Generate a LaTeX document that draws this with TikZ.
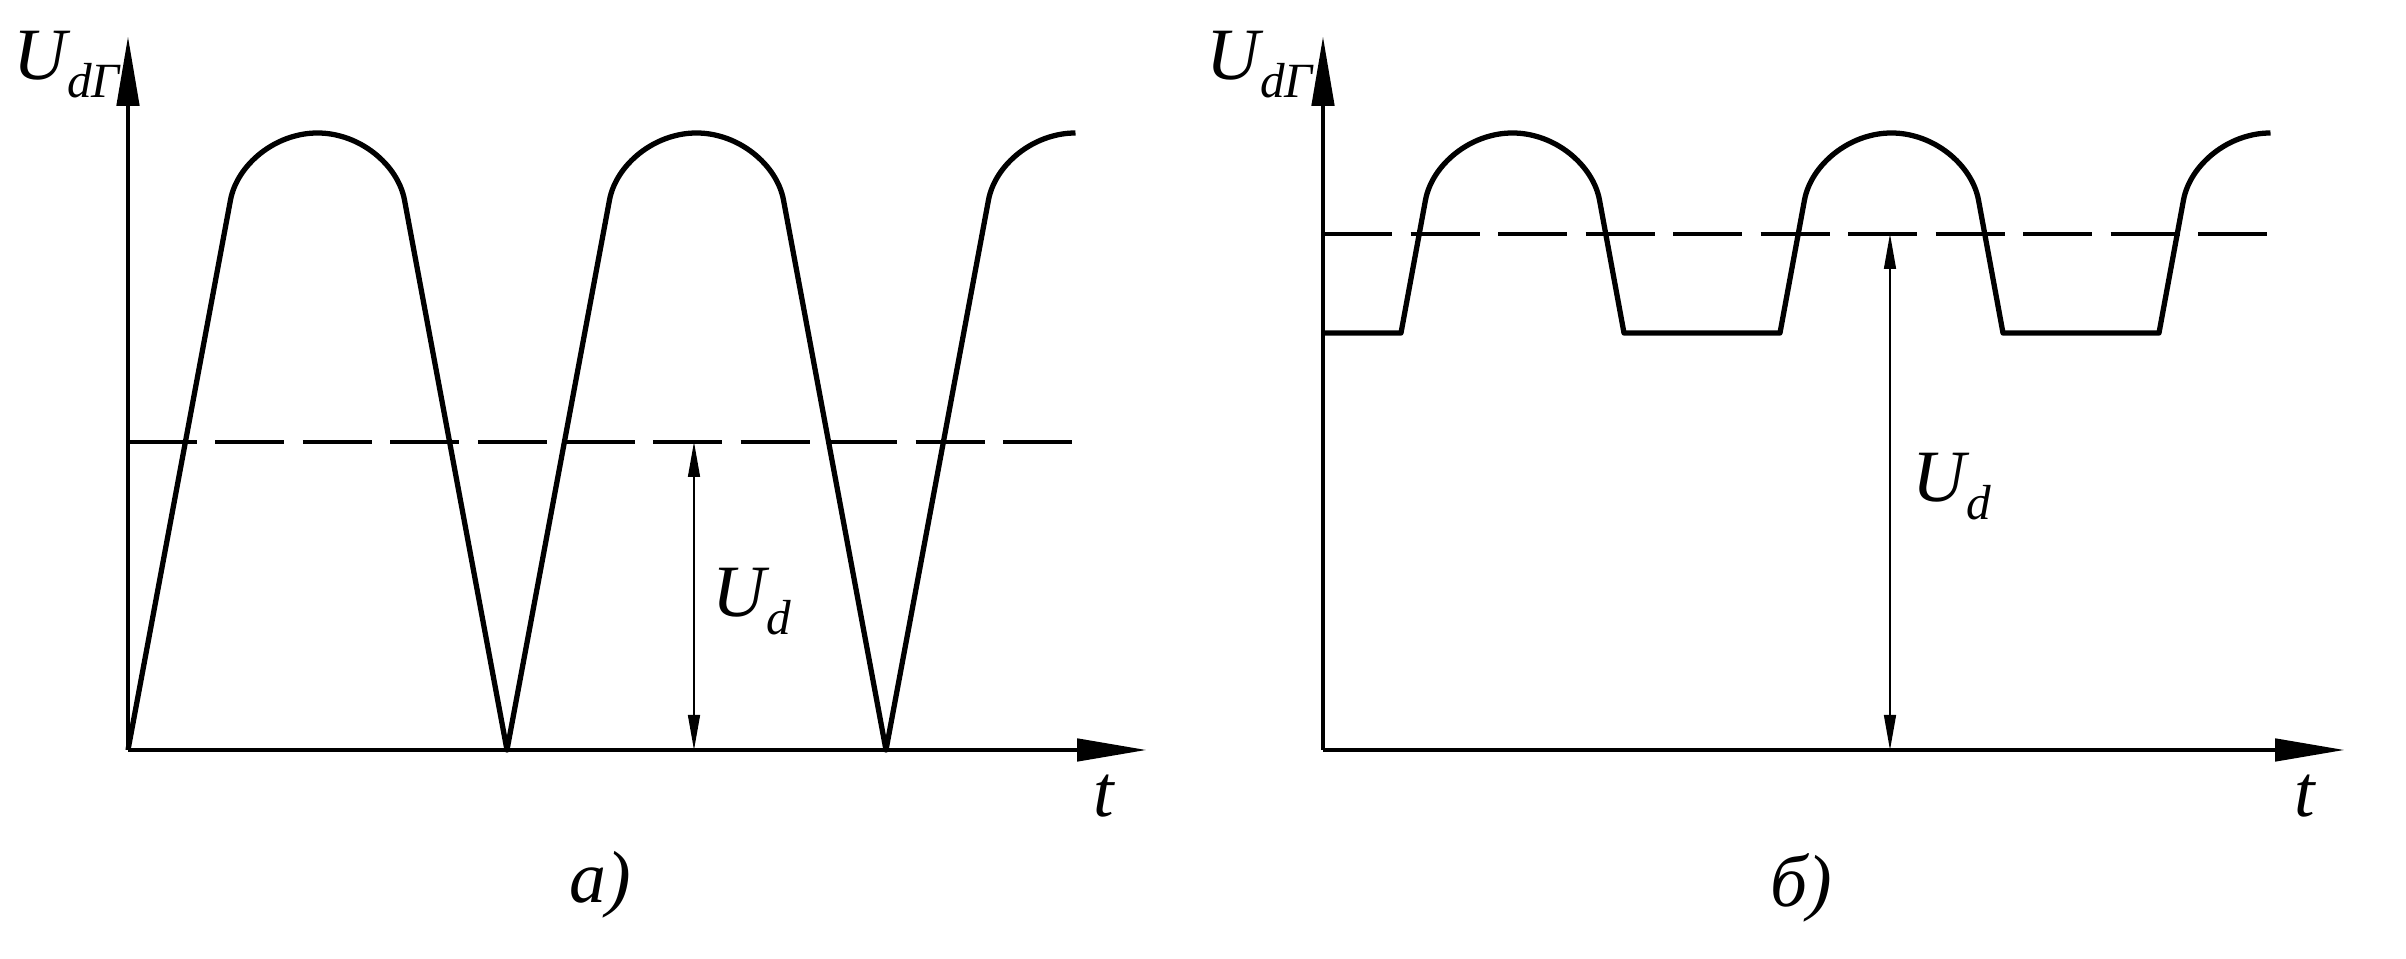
\documentclass[tikz,border=0pt]{standalone}
\usepackage{fontspec}
\setmainfont{Liberation Serif}
\usetikzlibrary{arrows.meta, positioning}

\newcommand{\sublbl}[2]{\textit{#1}\raisebox{-5pt}{\fontsize{14}{16}\selectfont\textit{#2}}}
% one rounded top of the wave, from its left foot (x,5.5)
\newcommand{\hump}[1]{.. controls (#1+1.09,5.85) and (#1+1.47,6.17) .. (#1+1.895,6.17) .. controls (#1+2.32,6.17) and (#1+2.70,5.85) .. (#1+2.765,5.5)}

\begin{document}
\begin{tikzpicture}[
    axis/.style={line width=1.4pt, -{Triangle[length=7mm, width=2.2mm]}},
    wave/.style={line width=1.5pt, line join=round},
    level/.style={line width=1.4pt, dash pattern=on 0.69cm off 0.185cm},
    dim/.style={line width=0.4pt, {Triangle[length=3.5mm, width=1.2mm]}-{Triangle[length=3.5mm, width=1.2mm]}},
    every node/.style={inner sep=0pt, font=\fontsize{21}{25}\selectfont\itshape}
]
\useasboundingbox (-1.28,-2.09) rectangle (22.78,7.50);

   % panel a)
   \coordinate (Oa) at (0,0);
   \coordinate (Ya) at (0,7.14);
   \coordinate (Xa) at (10.19,0);
   \coordinate (Ha) at (5.66,3.08);
   \coordinate (La) at (5.66,0);
   \draw[axis] (Oa) -- (Ya);
   \draw[axis] (Oa) -- (Xa);
   \draw[level] (0,3.08) -- (9.5,3.08);
   \draw[wave] (Oa) foreach \x in {0,3.79} {
       -- (\x+1.025,5.5) \hump{\x} -- (\x+3.79,0)
   } -- (8.605,5.5) .. controls (8.67,5.85) and (9.05,6.17) .. (9.475,6.17);
   \draw[dim] (Ha) -- (La);
   \node[anchor=base west] (ua) at (-1.15,6.70) {\sublbl{U}{dΓ}};
   \node[anchor=base west] (da) at (5.84,1.33) {\sublbl{U}{d}};
   \node (ta) at (9.76,-0.46) {t};
   \node (capa) at (4.72,-1.35) {a)};

   % panel b)
   \begin{scope}[xshift=11.95cm]
   \coordinate (Ob) at (0,0);
   \coordinate (Yb) at (0,7.14);
   \coordinate (Xb) at (10.22,0);
   \coordinate (Hb) at (5.67,5.16);
   \coordinate (Lb) at (5.67,0);
   \draw[axis] (Ob) -- (Yb);
   \draw[axis] (Ob) -- (Xb);
   \draw[level] (0,5.16) -- (9.56,5.16);
   \draw[wave] (0,4.17) foreach \x in {0,3.79} {
       -- (\x+0.78,4.17) -- (\x+1.025,5.5) \hump{\x} -- (\x+3.01,4.17)
   } -- (8.36,4.17) -- (8.605,5.5) .. controls (8.67,5.85) and (9.05,6.17) .. (9.475,6.17);
   \draw[dim] (Hb) -- (Lb);
   \node[anchor=base west] (ub) at (-1.17,6.70) {\sublbl{U}{dΓ}};
   \node[anchor=base west] (db) at (5.89,2.48) {\sublbl{U}{d}};
   \node (tb) at (9.82,-0.46) {t};
   \node (capb) at (4.78,-1.38) {б)};
   \end{scope}
\end{tikzpicture}
\end{document}
